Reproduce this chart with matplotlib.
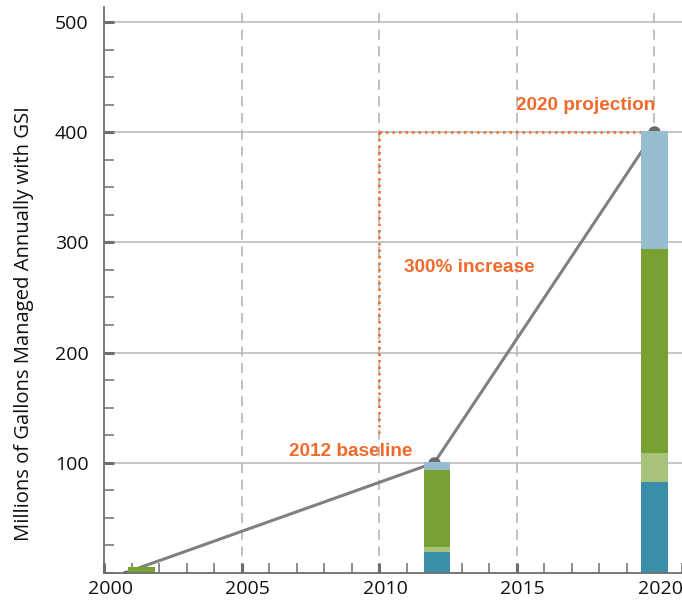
import numpy as np
import matplotlib.pyplot as plt
from matplotlib.ticker import MultipleLocator, FixedLocator
from matplotlib.transforms import ScaledTranslation

# bar data (stacked, bottom to top)
bar_years = [2001.37, 2012.1, 2020.0]
teal = [0, 19, 83]
light_green = [0, 4.5, 26]
green = [5, 70, 185]
light_blue = [0, 7, 107]

# trend line
line_years = [2000.75, 2012, 2020]
line_vals = [0, 100, 400]

baseline_year = 2010
baseline_low = 127
projection_val = 400

c_teal = '#3b8ea9'
c_lgreen = '#a8c27a'
c_green = '#79a033'
c_lblue = '#97bdd0'
c_orange = '#f26a2b'
c_line = '#808080'

plt.rcParams['font.family'] = ['Open Sans', 'DejaVu Sans']

fig = plt.figure(figsize=(6.82, 6.0), dpi=100)
ax = fig.add_axes([104/682, 27/600, 578/682, 566/600])

ax.set_xlim(2000, 2021)
ax.set_ylim(0, 513.6)

# grid
for y in [100, 200, 300, 400, 500]:
    ax.axhline(y, color='#c2c2c2', lw=1.3, zorder=1)
for x in [2005, 2010, 2015, 2020]:
    ax.axvline(x, color='#b5b5b5', lw=1.2, ls=(0, (6, 4)), zorder=1)

# orange guide
ax.plot([baseline_year, 2019.5], [projection_val, projection_val], color=c_orange,
        lw=1.8, ls=(0, (1, 1.6)), zorder=2)
ax.plot([baseline_year, baseline_year], [projection_val, baseline_low], color=c_orange,
        lw=1.8, ls=(0, (1, 1.6)), zorder=2)

# trend line
ax.plot(line_years, line_vals, color=c_line, lw=2.2, zorder=3, solid_capstyle='round')
ax.plot(line_years[1:], line_vals[1:], 'o', color='#6a6a6a', ms=8, zorder=3)
ax.plot(line_years[:1], line_vals[:1], 'o', color='#6a6a6a', ms=3, zorder=3)

# stacked bars
w = 0.97
bottom = np.zeros(len(bar_years))
for vals, col in [(teal, c_teal), (light_green, c_lgreen), (green, c_green), (light_blue, c_lblue)]:
    ax.bar(bar_years, vals, width=w, bottom=bottom, color=col, zorder=4, linewidth=0)
    bottom = bottom + np.array(vals)

# annotations
ax.text(2008.98, 110, '2012 baseline', color=c_orange, fontsize=13.7, fontweight='bold',
        family='Liberation Sans', ha='center', va='center', zorder=5)
ax.text(2013.28, 277.5, '300% increase', color=c_orange, fontsize=13.7, fontweight='bold',
        family='Liberation Sans', ha='center', va='center', zorder=5)
ax.text(2020.03, 424, '2020 projection', color=c_orange, fontsize=13.7, fontweight='bold',
        family='Liberation Sans', ha='right', va='center', zorder=5)

# axes styling
for s in ['top', 'right']:
    ax.spines[s].set_visible(False)
for s in ['left', 'bottom']:
    ax.spines[s].set_color('#6d6d6d')
    ax.spines[s].set_linewidth(1.3)
    ax.spines[s].set_zorder(6)

ax.xaxis.set_major_locator(FixedLocator([2000, 2005, 2010, 2015, 2020]))
ax.xaxis.set_minor_locator(MultipleLocator(1))
ax.yaxis.set_major_locator(FixedLocator([100, 200, 300, 400, 500]))
ax.yaxis.set_minor_locator(MultipleLocator(25))

ax.tick_params(which='major', direction='in', length=7.5, width=2.2, color='#6d6d6d',
               labelsize=14, labelcolor='#111111')
ax.tick_params(which='minor', direction='in', length=7.5, width=1.1, color='#6d6d6d')
ax.tick_params(axis='y', which='major', pad=11)
ax.tick_params(axis='x', which='major', pad=5)

# x labels sit a little right of their ticks
shift = ScaledTranslation(6/100, 0, fig.dpi_scale_trans)
for lbl in ax.get_xticklabels():
    lbl.set_transform(lbl.get_transform() + shift)

ax.set_ylabel('Millions of Gallons Managed Annually with GSI', fontsize=14.6,
              color='#111111')
ax.yaxis.set_label_coords(-0.121, 0.44)

fig.savefig('out.png', dpi=100)
